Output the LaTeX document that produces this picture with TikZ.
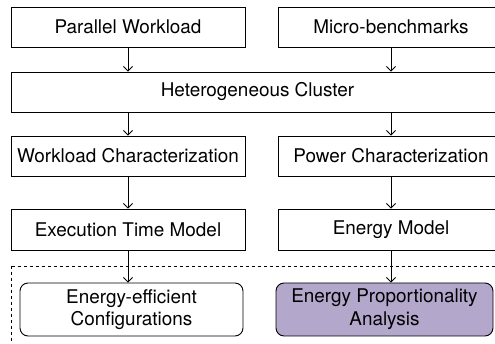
\documentclass[tikz,border=0pt]{standalone}
\usepackage{fontspec}
\setmainfont{TeX Gyre Heros}
\usepackage{xcolor}
\usepackage{tikz}
\usetikzlibrary{arrows.meta}

\definecolor{lavender}{RGB}{180,167,204}

\begin{document}
\begin{tikzpicture}[x=1pt, y=1pt,
        stage/.style={draw, line width=0.9pt, inner sep=0pt, minimum height=40pt, align=center, font=\fontsize{18.9}{22.7}\selectfont},
        outcome/.style={stage, rounded corners=8pt, minimum height=53pt},
        flow/.style={-{Straight Barb[length=4.5pt, width=9pt]}, line width=0.9pt}
    ]
        \clip (0,0) rectangle (495,344);
        \node[stage, minimum width=234pt] (workload) at (128,317) {Parallel Workload};
        \node[stage, minimum width=226pt] (micro) at (391,317) {Micro-benchmarks};
        \node[stage, minimum width=493pt] (cluster) at (257.5,252) {Heterogeneous Cluster};
        \node[stage, minimum width=234pt] (wchar) at (128,188) {Workload Characterization};
        \node[stage, minimum width=226pt] (pchar) at (391,188) {Power Characterization};
        \node[stage, minimum width=234pt, minimum height=41pt] (timemodel) at (128,114.5) {Execution Time Model};
        \node[stage, minimum width=226pt, minimum height=41pt] (energymodel) at (391,114.5) {Energy Model};
        \node[outcome, minimum width=223pt] (configs) at (131.5,34.5) {Energy-efficient\\Configurations};
        \node[outcome, minimum width=217pt, fill=lavender] (proportion) at (384.5,34.5) {Energy Proportionality\\Analysis};

        % analysis region
        \draw[dashed, line width=0.8pt] (11,78) rectangle (530,-20);

        \draw[flow] (workload.south) -- (workload.south |- cluster.north);
        \draw[flow] (micro.south) -- (micro.south |- cluster.north);
        \draw[flow] (wchar.north |- cluster.south) -- (wchar.north);
        \draw[flow] (pchar.north |- cluster.south) -- (pchar.north);
        \draw[flow] (wchar.south) -- (timemodel.north);
        \draw[flow] (pchar.south) -- (energymodel.north);
        \draw[flow] (timemodel.south) -- (timemodel.south |- configs.north);
        \draw[flow] (energymodel.south) -- (energymodel.south |- proportion.north);
    \end{tikzpicture}
\end{document}
